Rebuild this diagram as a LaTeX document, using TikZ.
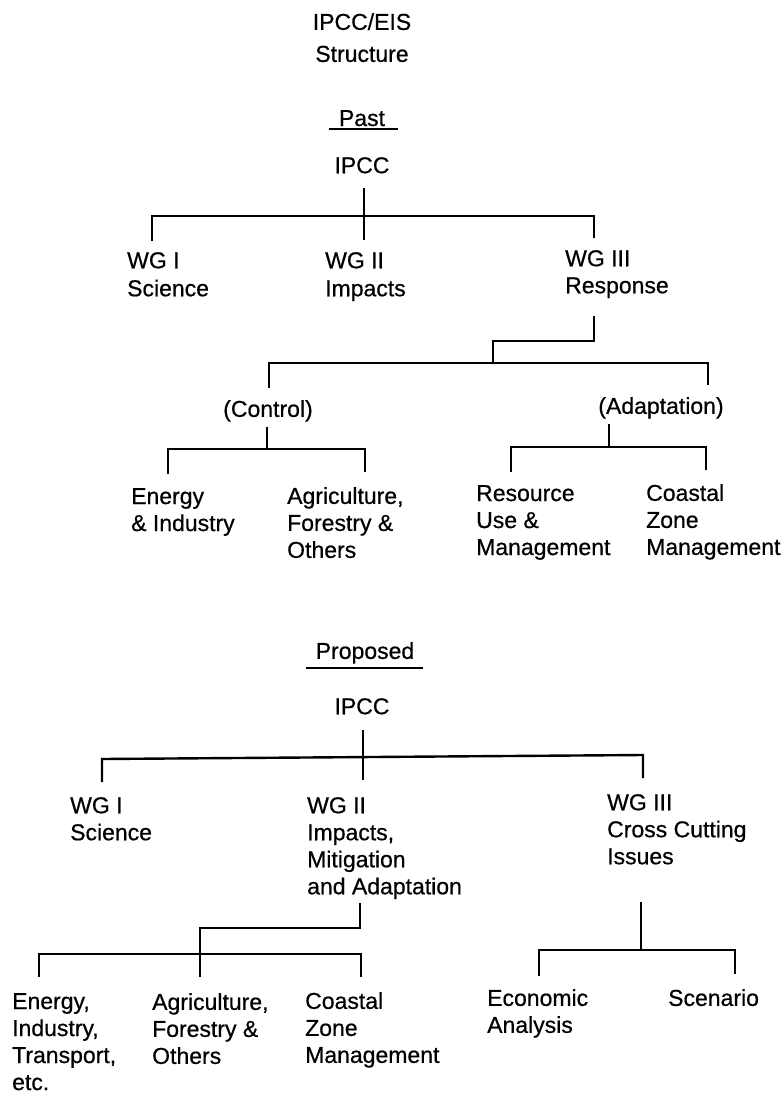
\documentclass[tikz,border=0pt]{standalone}
\usepackage{fontspec}
\setmainfont{Liberation Sans}[FakeBold=0.6]
\begin{document}
\begin{tikzpicture}[x=1pt,y=-1pt,
  lbl/.style={inner sep=0pt,anchor=north west,align=left,font=\fontsize{23}{27}\selectfont},
  clbl/.style={inner sep=0pt,anchor=north,align=center,font=\fontsize{23}{27}\selectfont},
  conn/.style={line width=2.4pt,line join=miter},
  uline/.style={line width=2pt}]
\useasboundingbox (0,0) rectangle (781,1093);

% ---------- title ----------
\node[clbl] (title) at (362,13) {IPCC/EIS\\[5pt]Structure};

% ---------- past ----------
\node[clbl] (past) at (362,110) {Past};
\draw[uline] ([xshift=-10pt,yshift=-3pt]past.south west) -- ([xshift=13pt,yshift=-3pt]past.south east);
\node[clbl] (ipccA) at (362,157) {IPCC};

\node[lbl] (wg1a) at (127,252) {WG I\\[1pt]Science};
\node[lbl] (wg2a) at (325,252) {WG II\\[1pt]Impacts};
\node[lbl] (wg3a) at (565,250) {WG III\\Response};

\node[clbl] (control) at (268,400) {(Control)};
\node[clbl] (adapt) at (661,397) {(Adaptation)};

\node[lbl] (energyA) at (131,488) {Energy\\\& Industry};
\node[lbl] (agriA) at (287,487) {Agriculture,\\Forestry \&\\Others};
\node[lbl] (resource) at (476,485) {Resource\\Use \&\\Management};
\node[lbl] (coastA) at (646,484) {Coastal\\Zone\\Management};

% connectors (past)
\coordinate (pIpcc) at (364,188);
\coordinate (pWG2) at (364,240);
\draw[conn] (pIpcc) -- (pWG2);
\coordinate (pWG1) at (152,241);
\coordinate (pWG3) at (594,238);
\draw[conn] (pWG1) -- (152,216) -- (594,216) -- (pWG3);

\coordinate (pResp) at (594,316);
\draw[conn] (pResp) -- (594,341) -- (493,341) -- (493,363);
\coordinate (pCtrl) at (269,388);
\coordinate (pAdpt) at (708,385);
\draw[conn] (pCtrl) -- (269,363) -- (708,363) -- (pAdpt);

\coordinate (pCtrlB) at (267,427);
\draw[conn] (pCtrlB) -- (267,449);
\coordinate (pEn) at (168,474);
\coordinate (pAg) at (365,472);
\draw[conn] (pEn) -- (168,449) -- (365,449) -- (pAg);

\coordinate (pAdptB) at (609,424);
\draw[conn] (pAdptB) -- (609,447);
\coordinate (pRes) at (511,472);
\coordinate (pCo) at (706,470);
\draw[conn] (pRes) -- (511,447) -- (706,447) -- (pCo);

% ---------- proposed ----------
\node[clbl] (proposed) at (365,642) {Proposed};
\draw[uline] ([xshift=-10pt,yshift=-4pt]proposed.south west) -- ([xshift=9pt,yshift=-4pt]proposed.south east);
\node[clbl] (ipccB) at (362,698) {IPCC};

\node[lbl] (wg1b) at (70,797) {WG I\\Science};
\node[lbl] (wg2b) at (307,797) {WG II\\Impacts,\\Mitigation\\and Adaptation};
\node[lbl] (wg3b) at (607,794) {WG III\\Cross Cutting\\Issues};

\node[lbl] (energyB) at (12,993) {Energy,\\Industry,\\Transport,\\etc.};
\node[lbl] (agriB) at (152,993) {Agriculture,\\Forestry \&\\Others};
\node[lbl] (coastB) at (305,992) {Coastal\\Zone\\Management};
\node[lbl] (econ) at (487,989) {Economic\\Analysis};
\node[lbl] (scen) at (668,989) {Scenario};

% connectors (proposed)
\coordinate (qIpcc) at (363,730);
\coordinate (qWG2) at (363,780);
\draw[conn] (qIpcc) -- (qWG2);
\coordinate (qWG1) at (102,782);
\coordinate (qWG3) at (643,778);
\draw[conn] (qWG1) -- (102,759) -- (643,755) -- (qWG3);

\coordinate (qWG2b) at (360,903);
\coordinate (qAg) at (200,977);
\draw[conn] (qWG2b) -- (360,928) -- (200,928) -- (qAg);
\coordinate (qEn) at (39,977);
\coordinate (qCo) at (361,977);
\draw[conn] (qEn) -- (39,954) -- (361,954) -- (qCo);

\coordinate (qWG3b) at (641,902);
\draw[conn] (qWG3b) -- (641,950);
\coordinate (qEc) at (539,976);
\coordinate (qSc) at (735,974);
\draw[conn] (qEc) -- (539,950) -- (735,950) -- (qSc);
\end{tikzpicture}
\end{document}
